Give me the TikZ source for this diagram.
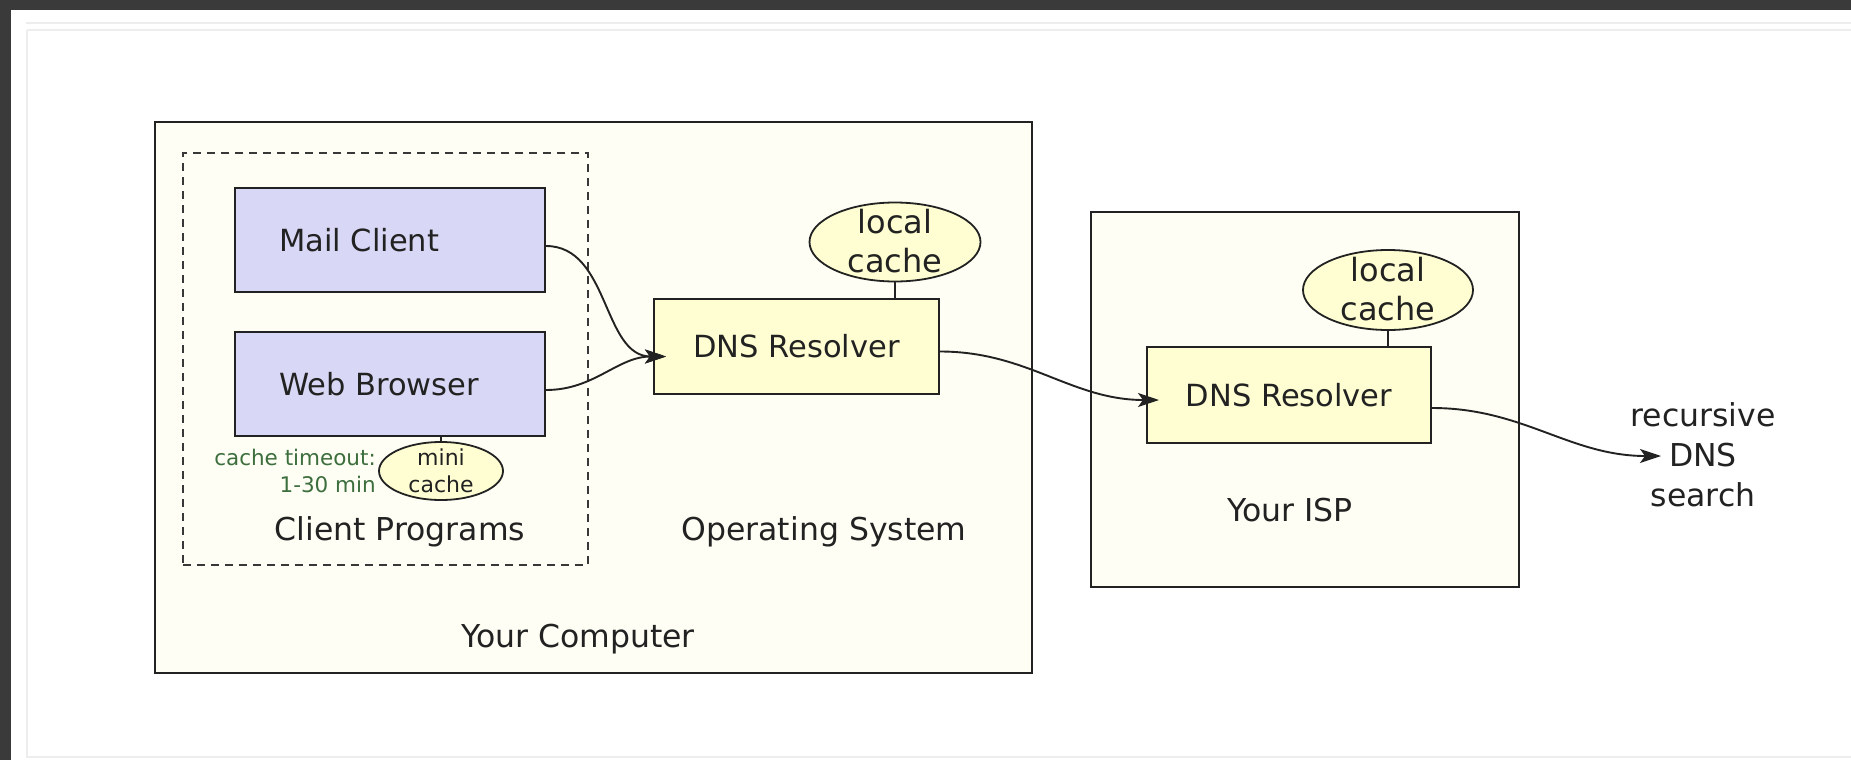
\documentclass[tikz,border=0pt]{standalone}
\usepackage{fontspec}
\setmainfont{DejaVu Sans}
\usetikzlibrary{arrows.meta,calc,shapes.geometric}
\definecolor{framebg}{HTML}{3A3A3A}
\definecolor{cream}{HTML}{FEFEF4}
\definecolor{lav}{HTML}{D8D8F6}
\definecolor{yel}{HTML}{FEFED2}
\definecolor{ink}{HTML}{222222}
\definecolor{grn}{HTML}{3D6E3D}
\definecolor{rulegray}{HTML}{EDEDED}
\tikzset{
  group/.style={rectangle, draw=ink, line width=2.2pt, fill=cream, inner sep=0pt},
  dashgroup/.style={rectangle, draw=ink!90, line width=2.4pt, dash pattern=on 8pt off 6pt, inner sep=0pt},
  prog/.style={rectangle, draw=ink, line width=2pt, fill=lav, inner sep=0pt},
  resolver/.style={rectangle, draw=ink, line width=2pt, fill=yel, inner sep=0pt, text=ink, font=\fontsize{30.5}{36}\selectfont},
  cachebox/.style={ellipse, draw=ink, line width=1.8pt, fill=yel, inner sep=0pt},
  cachetext/.style={align=center, text=ink, inner sep=0pt, font=\fontsize{32}{39}\selectfont},
  minitext/.style={align=center, text=ink, inner sep=0pt, font=\fontsize{22}{27}\selectfont},
  boxtext/.style={text=ink, inner sep=0pt, font=\fontsize{30.5}{36}\selectfont},
  lbl/.style={text=ink, inner sep=0pt, font=\fontsize{31.5}{40}\selectfont, align=center},
  note/.style={text=grn, inner sep=0pt, align=right, font=\fontsize{21.5}{27}\selectfont},
  tie/.style={draw=ink, line width=1.8pt},
  link/.style={draw=ink, line width=1.9pt, -{Stealth[length=21pt,width=14pt,inset=5pt]}}
}
\begin{document}
\begin{tikzpicture}[x=1pt,y=-1pt]
\useasboundingbox (0,0) rectangle (1851,760);
% page frame
\fill[white] (0,0) rectangle (1851,760);
\fill[framebg] (0,0) rectangle (1851,10);
\fill[framebg] (0,0) rectangle (11,760);
\draw[rulegray, line width=1.2pt] (26,23) -- (1851,23);
\draw[rulegray, line width=1.2pt] (27,30) -- (1851,30);
\draw[rulegray, line width=1.5pt] (27,30) -- (27,757) -- (1851,757);

% groups
\node[group, minimum width=877pt, minimum height=551pt] (comp) at (593.5,397.5) {};
\node[group, minimum width=428pt, minimum height=375pt] (isp) at (1305,399.5) {};
\node[dashgroup, minimum width=405pt, minimum height=412pt] (clients) at (385.5,359) {};

% client programs
\node[prog, minimum width=310pt, minimum height=104pt] (mail) at (390,240) {};
\node[boxtext, anchor=west] (mailt) at ([xshift=45pt]mail.west) {Mail Client};
\node[prog, minimum width=310pt, minimum height=104pt] (web) at (390,384) {};
\node[boxtext, anchor=west] (webt) at ([xshift=45pt]web.west) {Web Browser};

% mini cache
\node[cachebox, minimum width=124pt, minimum height=58pt] (mini) at (441,471) {};
\node[minitext] (minit) at (441,470.5) {mini\\cache};
\draw[tie] (web.south -| mini) -- (mini.north);
\node[note, anchor=east] (timeout) at (376,470.5) {cache timeout:\\1-30 min};

% resolvers
\node[resolver, minimum width=285pt, minimum height=95pt] (dns1) at (796.5,346.5) {DNS Resolver};
\node[cachebox, minimum width=171pt, minimum height=79pt] (lc1) at (895,242) {};
\node[cachetext] (lc1t) at (895,241.5) {local\\cache};
\draw[tie] (lc1.south) -- (dns1.north -| lc1);

\node[resolver, minimum width=284pt, minimum height=96pt] (dns2) at (1289,395) {DNS Resolver};
\node[cachebox, minimum width=170pt, minimum height=80pt] (lc2) at (1388,290) {};
\node[cachetext] (lc2t) at (1388,289.5) {local\\cache};
\draw[tie] (lc2.south) -- (dns2.north -| lc2);

% labels
\node[lbl] (cplbl) at (400,532) {Client Programs};
\node[lbl] (oslbl) at (824,532) {Operating System};
\node[lbl] (pclbl) at (578,639) {Your Computer};
\node[lbl] (isplbl) at (1290,510) {Your ISP};
\node[lbl] (rec) at (1703,455) {recursive\\DNS\\search};
\coordinate (recin) at (1661,456);

% connectors
\coordinate (in1) at ($(dns1.west)+(13,10)$);
\coordinate (in2) at ($(dns2.west)+(13,5)$);
\draw[link] ($(mail.east)+(0,6)$) to[out=0,in=180] (in1);
\draw[link] ($(web.east)+(0,6)$) to[out=0,in=180] (in1);
\draw[link] ($(dns1.east)+(0,5)$) to[out=0,in=180] (in2);
\draw[link] ($(dns2.east)+(0,13)$) to[out=0,in=180] (recin);
\end{tikzpicture}
\end{document}
